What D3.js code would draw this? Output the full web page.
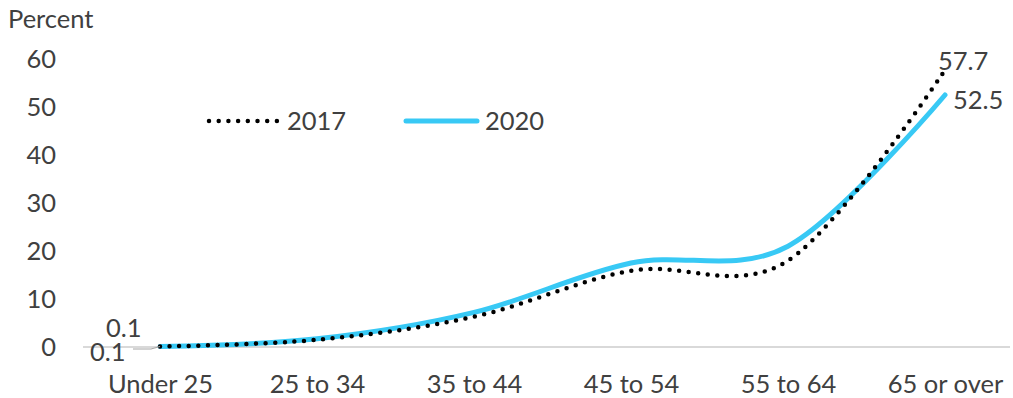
<!DOCTYPE html>
<html><head><meta charset="utf-8">
<script src="https://cdn.jsdelivr.net/npm/d3@7"></script>
<style>
html,body{margin:0;padding:0;background:#fff;}
text{font-family:Lato,"Noto Sans",sans-serif;fill:#404040;}
</style></head>
<body><svg id="c" width="1013" height="398"></svg>
<script>
const categories = ["Under 25","25 to 34","35 to 44","45 to 54","55 to 64","65 or over"];
const values2017 = [0.1, 1.5, 6.3, 15.9, 18.0, 57.7];
const values2020 = [0.1, 1.7, 7.2, 17.5, 21.0, 52.5];
const yTicks = [0,10,20,30,40,50,60];
const seriesNames = ["2017","2020"];

const svg = d3.select("#c");
const x = d3.scalePoint().domain(categories).range([160,945]);
const y = d3.scaleLinear().domain([0,60]).range([347,59]);
const fs = 25.5;

// axis baseline
svg.append("line").attr("x1",83).attr("x2",1010).attr("y1",y(0)).attr("y2",y(0))
  .attr("stroke","#d9d9d9").attr("stroke-width",2);

// y tick labels
const yAxis = d3.axisLeft(y).tickValues(yTicks).tickSize(0).tickPadding(0).tickFormat(d3.format("d"));
const gy = svg.append("g").attr("transform","translate(56,0)").call(yAxis);
gy.select(".domain").remove();
gy.selectAll("text").attr("font-size",fs).attr("font-family",null).attr("fill","#404040").attr("dy","0.35em");

// x tick labels
const xAxis = d3.axisBottom(x).tickSize(0).tickPadding(0);
const gx = svg.append("g").attr("transform","translate(0,393)").call(xAxis);
gx.select(".domain").remove();
gx.selectAll("text").attr("font-size",fs).attr("font-family",null).attr("fill","#404040").attr("dy",0);

svg.append("text").attr("x",8).attr("y",28).attr("font-size",fs).text("Percent");

const line = d3.line().x((d,i)=>x(categories[i])).y(d=>y(d)).curve(d3.curveCardinal.tension(0));

const blue = "#38c9f5";
svg.append("path").datum(values2020).attr("d",line).attr("fill","none")
  .attr("stroke",blue).attr("stroke-width",5).attr("stroke-linecap","round");
svg.append("path").datum(values2017).attr("d",line).attr("fill","none")
  .attr("stroke","#000").attr("stroke-width",4.5).attr("stroke-linecap","round")
  .attr("stroke-dasharray","0 9.6");

// leader line for first label
svg.append("polyline").attr("points",`133,349 151,349 ${x(categories[0])},${y(values2017[0])}`)
  .attr("fill","none").attr("stroke","#a6a6a6").attr("stroke-width",1.2);

// data labels
svg.append("text").attr("x",106).attr("y",337).attr("font-size",fs).text(values2020[0].toFixed(1));
svg.append("text").attr("x",90).attr("y",361).attr("font-size",fs).text(values2017[0].toFixed(1));
svg.append("text").attr("x",x(categories[5])-7).attr("y",70).attr("font-size",fs).text(values2017[5].toFixed(1));
svg.append("text").attr("x",x(categories[5])+8).attr("y",109).attr("font-size",fs).text(values2020[5].toFixed(1));

// legend
svg.append("line").attr("x1",209).attr("x2",278).attr("y1",121).attr("y2",121)
  .attr("stroke","#000").attr("stroke-width",4.5).attr("stroke-linecap","round").attr("stroke-dasharray","0 9.7");
svg.append("text").attr("x",287).attr("y",130).attr("font-size",fs).text(seriesNames[0]);
svg.append("line").attr("x1",406).attr("x2",477).attr("y1",121).attr("y2",121)
  .attr("stroke",blue).attr("stroke-width",5).attr("stroke-linecap","round");
svg.append("text").attr("x",485).attr("y",130).attr("font-size",fs).text(seriesNames[1]);
</script></body></html>
